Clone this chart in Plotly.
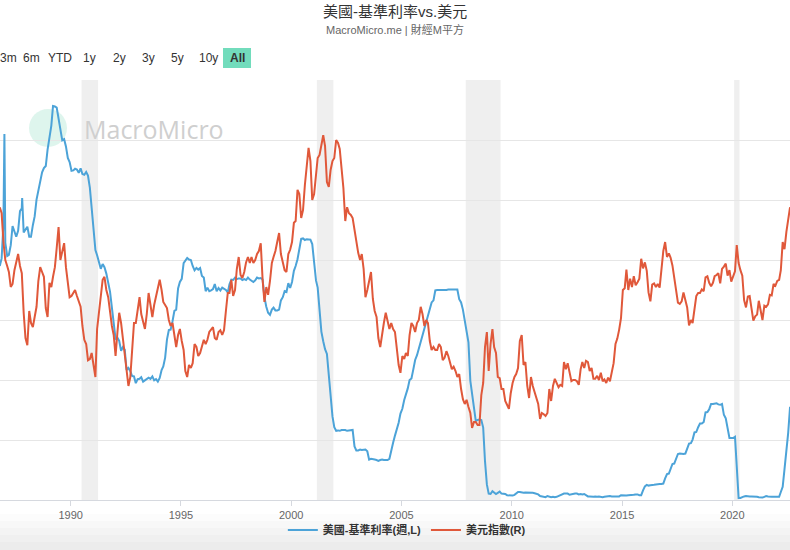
import plotly.graph_objects as go
import pandas as pd

# ---------------- data ----------------
start_month = "1986-10-01"   # monthly values, Oct 1986 .. Aug 2022

ffr_values = [
    5.85, 6.04, 6.91,                                                   # 1986 Oct-Dec
    6.43, 6.10, 6.13, 6.37, 6.85, 6.73, 6.58, 6.73, 7.22, 7.29, 6.69, 6.77,  # 1987
    6.83, 6.58, 6.58, 6.87, 7.09, 7.51, 7.75, 8.01, 8.19, 8.30, 8.35, 8.76,  # 1988
    9.12, 9.36, 9.85, 9.84, 9.81, 9.53, 9.24, 8.99, 9.02, 8.84, 8.55, 8.45,  # 1989
    8.23, 8.24, 8.28, 8.26, 8.18, 8.29, 8.15, 8.13, 8.20, 8.11, 7.81, 7.31,  # 1990
    6.91, 6.25, 6.12, 5.91, 5.78, 5.90, 5.82, 5.66, 5.45, 5.21, 4.81, 4.43,  # 1991
    4.03, 4.06, 3.98, 3.73, 3.82, 3.76, 3.25, 3.30, 3.22, 3.10, 3.09, 2.92,  # 1992
    3.02, 3.03, 3.07, 2.96, 3.00, 3.04, 3.06, 3.03, 3.09, 2.99, 3.02, 2.96,  # 1993
    3.05, 3.25, 3.34, 3.56, 4.01, 4.25, 4.26, 4.47, 4.73, 4.76, 5.29, 5.45,  # 1994
    5.53, 5.92, 5.98, 6.05, 6.01, 6.00, 5.85, 5.74, 5.80, 5.76, 5.80, 5.60,  # 1995
    5.56, 5.22, 5.31, 5.22, 5.24, 5.27, 5.40, 5.22, 5.30, 5.24, 5.31, 5.29,  # 1996
    5.25, 5.19, 5.39, 5.51, 5.50, 5.56, 5.52, 5.54, 5.54, 5.50, 5.52, 5.50,  # 1997
    5.56, 5.51, 5.49, 5.45, 5.49, 5.56, 5.54, 5.55, 5.51, 5.07, 4.83, 4.68,  # 1998
    4.63, 4.76, 4.81, 4.74, 4.74, 4.76, 4.99, 5.07, 5.22, 5.20, 5.42, 5.30,  # 1999
    5.45, 5.73, 5.85, 6.02, 6.27, 6.53, 6.54, 6.50, 6.52, 6.51, 6.51, 6.40,  # 2000
    5.98, 5.49, 5.31, 4.80, 4.21, 3.97, 3.77, 3.65, 3.07, 2.49, 2.09, 1.82,  # 2001
    1.73, 1.74, 1.73, 1.75, 1.75, 1.75, 1.73, 1.74, 1.75, 1.75, 1.34, 1.24,  # 2002
    1.24, 1.26, 1.25, 1.26, 1.26, 1.22, 1.01, 1.03, 1.01, 1.01, 1.00, 0.98,  # 2003
    1.00, 1.01, 1.00, 1.00, 1.00, 1.03, 1.26, 1.43, 1.61, 1.76, 1.93, 2.16,  # 2004
    2.28, 2.50, 2.63, 2.79, 3.00, 3.04, 3.26, 3.50, 3.62, 3.78, 4.00, 4.16,  # 2005
    4.29, 4.49, 4.59, 4.79, 4.94, 4.99, 5.24, 5.25, 5.25, 5.25, 5.25, 5.24,  # 2006
    5.25, 5.26, 5.26, 5.25, 5.25, 5.25, 5.26, 5.02, 4.94, 4.76, 4.49, 4.24,  # 2007
    3.94, 2.98, 2.61, 2.28, 1.98, 2.00, 2.01, 2.00, 1.81, 0.97, 0.39, 0.16,  # 2008
    0.15, 0.22, 0.18, 0.15, 0.18, 0.21, 0.16, 0.16, 0.15, 0.12, 0.12, 0.12,  # 2009
    0.11, 0.13, 0.16, 0.20, 0.20, 0.18, 0.18, 0.19, 0.19, 0.19, 0.19, 0.18,  # 2010
    0.17, 0.16, 0.14, 0.10, 0.09, 0.09, 0.07, 0.10, 0.08, 0.07, 0.08, 0.07,  # 2011
    0.08, 0.10, 0.13, 0.14, 0.16, 0.16, 0.16, 0.13, 0.14, 0.16, 0.16, 0.16,  # 2012
    0.14, 0.15, 0.14, 0.15, 0.11, 0.09, 0.09, 0.08, 0.08, 0.09, 0.08, 0.09,  # 2013
    0.07, 0.07, 0.08, 0.09, 0.09, 0.10, 0.09, 0.09, 0.09, 0.09, 0.09, 0.12,  # 2014
    0.11, 0.11, 0.11, 0.12, 0.12, 0.13, 0.13, 0.14, 0.14, 0.12, 0.12, 0.24,  # 2015
    0.34, 0.38, 0.36, 0.37, 0.37, 0.38, 0.39, 0.40, 0.40, 0.40, 0.41, 0.54,  # 2016
    0.65, 0.66, 0.79, 0.90, 0.91, 1.04, 1.15, 1.16, 1.15, 1.15, 1.16, 1.30,  # 2017
    1.41, 1.42, 1.51, 1.69, 1.70, 1.82, 1.91, 1.91, 1.95, 2.19, 2.20, 2.27,  # 2018
    2.40, 2.40, 2.41, 2.42, 2.39, 2.38, 2.40, 2.13, 2.04, 1.83, 1.55, 1.55,  # 2019
    1.55, 1.58, 0.65, 0.05, 0.05, 0.08, 0.09, 0.10, 0.09, 0.09, 0.09, 0.09,  # 2020
    0.09, 0.08, 0.07, 0.07, 0.06, 0.08, 0.10, 0.09, 0.08, 0.08, 0.08, 0.08,  # 2021
    0.08, 0.08, 0.20, 0.33, 0.77, 1.21, 1.68, 2.33,                          # 2022 Jan-Aug
]

# weekly spikes of the fed funds rate visible in the chart
ffr_spike_dates = ["1986-12-31", "1987-10-21"]
ffr_spike_values = [9.15, 7.55]

dxy_values = [
    108.8, 107.8, 103.0,                                                              # 1986 Oct-Dec
    100.0, 99.0, 98.0, 95.5, 96.0, 98.3, 99.5, 101.0, 99.0, 97.8, 91.2, 87.0,         # 1987
    85.8, 91.5, 89.5, 88.8, 90.5, 92.2, 96.5, 98.8, 98.0, 97.2, 92.0, 90.5,           # 1988
    96.2, 95.5, 97.2, 98.8, 102.0, 105.5, 100.0, 101.5, 102.8, 98.8, 96.5, 93.8,      # 1989
    94.0, 94.5, 95.0, 94.0, 93.0, 92.2, 89.0, 86.7, 86.0, 83.3, 83.5, 84.5,           # 1990
    82.5, 80.5, 88.5, 91.2, 94.0, 96.7, 97.2, 95.0, 93.8, 91.0, 89.0, 87.5,           # 1991
    84.0, 88.0, 91.2, 89.5, 87.0, 84.5, 81.0, 79.0, 80.5, 85.0, 89.5, 89.5,           # 1992
    91.5, 93.8, 91.0, 89.5, 88.5, 91.0, 94.5, 92.5, 90.5, 92.5, 94.0, 95.0,           # 1993
    96.7, 95.0, 93.0, 92.5, 92.0, 90.0, 89.0, 89.5, 87.5, 85.5, 87.5, 88.5,           # 1994
    86.5, 85.0, 81.5, 80.5, 82.5, 82.0, 82.8, 86.0, 85.5, 84.0, 84.5, 85.5,           # 1995
    86.7, 86.0, 86.7, 88.0, 88.5, 88.8, 87.0, 86.7, 88.0, 88.3, 87.5, 88.3,           # 1996
    91.5, 94.5, 94.5, 96.7, 94.0, 95.0, 98.5, 100.5, 97.5, 97.0, 98.0, 99.6,          # 1997
    100.5, 99.5, 100.5, 99.5, 100.0, 101.0, 101.5, 102.8, 96.7, 93.0, 95.5, 94.2,     # 1998
    96.5, 99.5, 100.5, 101.5, 103.0, 104.5, 101.0, 99.5, 98.3, 98.0, 101.0, 101.7,    # 1999
    103.0, 106.2, 106.5, 111.7, 111.0, 107.0, 108.3, 112.5, 116.2, 118.7, 116.5, 110.0,  # 2000
    111.0, 113.8, 117.0, 117.5, 119.5, 120.8, 119.0, 113.0, 112.2, 115.0, 116.5, 117.0,  # 2001
    120.0, 119.5, 118.5, 115.0, 112.0, 106.5, 108.8, 107.8, 107.5, 107.0, 105.0, 102.5,  # 2002
    101.2, 100.0, 101.0, 98.5, 93.8, 95.0, 96.5, 98.0, 93.5, 91.5, 90.5, 87.0,        # 2003
    85.5, 88.0, 89.5, 91.2, 90.0, 88.5, 89.5, 88.5, 88.0, 85.5, 82.5, 81.2,           # 2004
    84.0, 83.5, 84.5, 84.0, 87.5, 89.5, 89.0, 88.0, 89.5, 90.0, 92.2, 91.0,           # 2005
    89.0, 90.0, 89.5, 86.5, 85.0, 85.5, 85.0, 85.0, 86.0, 85.5, 83.3, 83.7,           # 2006
    84.8, 84.0, 82.8, 81.8, 82.2, 81.5, 80.5, 81.0, 78.5, 76.8, 76.0, 76.7,           # 2007
    75.5, 74.5, 72.0, 73.0, 73.0, 72.5, 72.5, 77.5, 79.5, 85.5, 88.0, 81.5,           # 2008
    86.0, 88.5, 85.5, 84.5, 80.5, 80.3, 78.5, 78.5, 76.5, 75.8, 75.2, 77.8,           # 2009
    79.5, 80.5, 81.0, 82.0, 86.5, 87.5, 82.5, 83.0, 79.0, 77.0, 80.5, 79.0,           # 2010
    78.0, 76.8, 76.0, 73.5, 74.5, 74.3, 74.0, 74.5, 78.5, 76.5, 79.0, 80.2,           # 2011
    79.5, 78.8, 79.2, 79.0, 83.0, 81.8, 82.8, 81.5, 79.8, 80.0, 80.0, 79.8,           # 2012
    79.2, 81.8, 83.0, 82.0, 83.2, 83.0, 81.5, 82.0, 80.2, 80.2, 80.7, 80.0,           # 2013
    81.2, 79.8, 80.1, 79.5, 80.4, 79.8, 81.5, 82.8, 86.0, 86.9, 88.4, 90.3,           # 2014
    95.0, 95.3, 98.4, 95.0, 96.9, 95.5, 97.3, 95.8, 96.3, 96.9, 100.2, 98.6,          # 2015
    99.6, 98.2, 94.6, 93.1, 95.9, 96.1, 95.5, 96.0, 95.4, 98.4, 101.5, 103.0,         # 2016
    100.5, 101.1, 100.4, 99.1, 97.0, 95.6, 92.9, 92.7, 93.1, 94.6, 93.0, 92.1,        # 2017
    89.1, 90.0, 89.5, 91.8, 94.0, 94.5, 94.5, 95.1, 94.8, 97.1, 97.3, 96.2,           # 2018
    95.6, 96.2, 97.3, 97.5, 97.8, 96.1, 98.5, 98.9, 99.4, 97.4, 98.3, 96.4,           # 2019
    97.4, 98.1, 102.5, 99.5, 98.3, 97.4, 93.3, 92.1, 93.9, 94.0, 91.9, 89.9,          # 2020
    90.6, 90.9, 93.2, 91.3, 90.0, 92.4, 92.2, 92.6, 94.2, 94.1, 96.0, 95.7,           # 2021
    96.5, 96.7, 98.3, 103.0, 101.8, 104.7, 106.5, 108.8,                              # 2022 Jan-Aug
]

recession_starts = ["1990-07-01", "2001-03-01", "2007-12-01", "2020-02-01"]
recession_ends = ["1991-03-31", "2001-11-30", "2009-06-30", "2020-04-30"]

range_buttons = ["3m", "6m", "YTD", "1y", "2y", "3y", "5y", "10y", "All"]

title_text = "美國-基準利率vs.美元"
subtitle_text = "MacroMicro.me | 財經M平方"
ffr_name = "美國-基準利率(週,L)"
dxy_name = "美元指數(R)"

# ---------------- build series ----------------
ffr_dates = pd.date_range(start_month, periods=len(ffr_values), freq="MS") + pd.Timedelta(days=14)
dxy_dates = pd.date_range(start_month, periods=len(dxy_values), freq="MS") + pd.Timedelta(days=14)

ffr = pd.concat([
    pd.Series(ffr_values, index=ffr_dates),
    pd.Series(ffr_spike_values, index=pd.to_datetime(ffr_spike_dates)),
]).sort_index()
dxy = pd.Series(dxy_values, index=dxy_dates)

FONT = "Liberation Sans, Arial, Noto Sans CJK TC, sans-serif"
BLUE = "#4ca3d8"
RED = "#e0583a"
W, H = 790, 550
MT, MB = 80, 50
PH = H - MT - MB


def py(pix):
    """pixel row -> paper y"""
    return (H - MB - pix) / PH


def px(pix):
    return pix / W


fig = go.Figure()
fig.add_trace(go.Scatter(
    x=ffr.index, y=ffr.values, name="<b>" + ffr_name + "</b>", mode="lines",
    line=dict(color=BLUE, width=2), yaxis="y", hoverinfo="skip",
))
fig.add_trace(go.Scatter(
    x=dxy.index, y=dxy.values, name="<b>" + dxy_name + "</b>", mode="lines",
    line=dict(color=RED, width=2), yaxis="y2", hoverinfo="skip",
))

shapes = []
for s, e in zip(recession_starts, recession_ends):
    shapes.append(dict(type="rect", xref="x", yref="paper", x0=s, x1=e, y0=0, y1=1,
                       fillcolor="#efefef", line=dict(width=0), layer="below"))

# bottom shadow band behind legend
band_rows = [(514, 521, "#fcfcfc"), (521, 528, "#f8f8f8"), (528, 535, "#f4f4f4"),
             (535, 542, "#f0f0f0"), (542, 551, "#ececec")]
for a, b, c in band_rows:
    shapes.append(dict(type="rect", xref="paper", yref="paper", x0=0, x1=1,
                       y0=py(b), y1=py(a), fillcolor=c, line=dict(width=0), layer="below"))

# watermark circle
shapes.append(dict(type="circle", xref="paper", yref="paper",
                   x0=px(29), x1=px(67), y0=py(147), y1=py(109),
                   fillcolor="#d6f2e8", opacity=0.8, line=dict(width=0), layer="below"))

# active "All" button
shapes.append(dict(type="rect", xref="paper", yref="paper",
                   x0=px(223), x1=px(251), y0=py(68), y1=py(48),
                   fillcolor="#72dcbc", line=dict(width=0), layer="above"))

annotations = [
    dict(text=title_text, x=0.5, y=py(12), xref="paper", yref="paper", showarrow=False,
         font=dict(size=15, color="#333333", family=FONT), xanchor="center", yanchor="middle"),
    dict(text=subtitle_text, x=0.5, y=py(30), xref="paper", yref="paper", showarrow=False,
         font=dict(size=11, color="#666666", family=FONT), xanchor="center", yanchor="middle"),
    dict(text="MacroMicro", x=px(82), y=py(129), xref="paper", yref="paper", showarrow=False,
         font=dict(size=25, color="#cfcfcf", family="Open Sans, Lato, sans-serif"),
         xanchor="left", yanchor="middle"),
]

button_centers = [8, 31, 60, 89.5, 119, 148.5, 177.5, 208, 237]
for label, cx in zip(range_buttons, button_centers):
    annotations.append(dict(
        text=("<b>" + label + "</b>") if label == "All" else label,
        x=px(cx), y=py(58), xref="paper", yref="paper", showarrow=False,
        font=dict(size=12, color="#333333", family=FONT), xanchor="center", yanchor="middle"))

fig.update_layout(
    width=W, height=H,
    margin=dict(l=0, r=0, t=MT, b=MB, pad=0),
    paper_bgcolor="white", plot_bgcolor="white",
    font=dict(family=FONT, color="#333333"),
    showlegend=True,
    legend=dict(orientation="h", x=0.515, xanchor="center", y=py(530), yanchor="middle",
                font=dict(size=11, color="#333333", family=FONT), bgcolor="rgba(0,0,0,0)",
                itemwidth=30, tracegroupgap=0),
    xaxis=dict(type="date", range=["1986-10-19", "2022-08-14"], showgrid=False,
               showline=True, linecolor="#d6d9df", linewidth=1,
               ticks="outside", ticklen=5, tickcolor="#d6d9df",
               tick0="1990-01-01", dtick="M60", tickformat="%Y",
               tickfont=dict(size=11, color="#666666", family=FONT), zeroline=False),
    yaxis=dict(range=[0, 10.5], tick0=0, dtick=1.5, showticklabels=False,
               gridcolor="#e6e6e6", gridwidth=1, zeroline=False, showline=False),
    yaxis2=dict(range=[60, 130], tick0=60, dtick=10, overlaying="y", side="right",
                showgrid=False, showticklabels=False, zeroline=False, showline=False),
    shapes=shapes,
    annotations=annotations,
    hovermode=False,
)

fig.write_html("out.html")
